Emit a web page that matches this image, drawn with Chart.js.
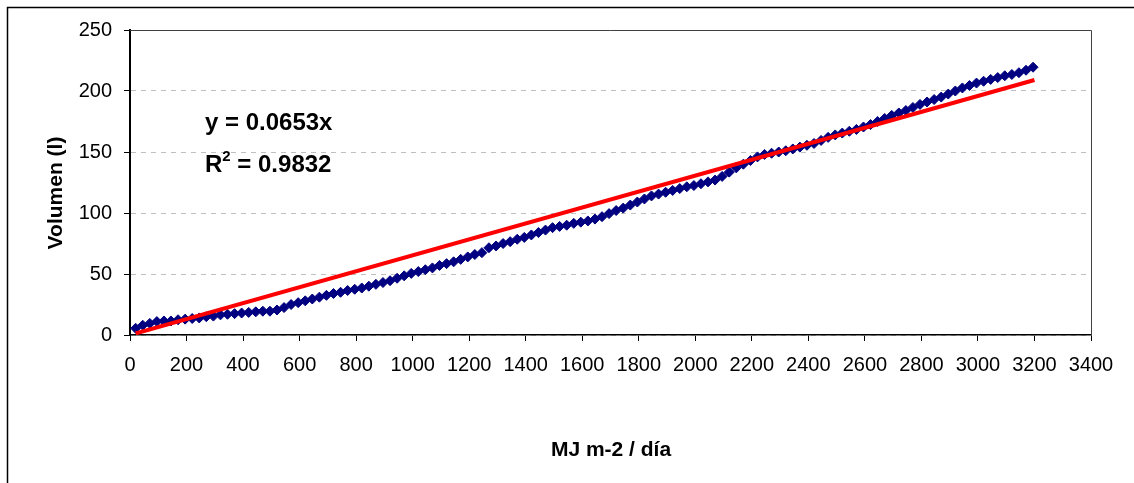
<!DOCTYPE html>
<html>
<head>
<meta charset="utf-8">
<script src="https://cdn.jsdelivr.net/npm/chart.js@4/dist/chart.umd.min.js"></script>
<style>
  html, body { margin: 0; padding: 0; background: #fff; }
  canvas { display: block; }
</style>
</head>
<body>
<canvas id="volChart" width="1134" height="483"></canvas>
<script>
// cumulative radiation (MJ m-2 / dia) and volume (l)
var radiacion = [20,45,70,95,120,145,170,195,220,245,270,295,320,345,370,395,420,445,470,495,
  520,545,570,595,620,645,670,695,720,745,770,795,820,845,870,895,920,945,970,995,
  1020,1045,1070,1095,1120,1145,1170,1195,1220,1245,1270,1295,1320,1345,1370,1395,1420,1445,1470,1495,
  1520,1545,1570,1595,1620,1645,1670,1695,1720,1745,1770,1795,1820,1845,1870,1895,1920,1945,1970,1995,
  2020,2045,2070,2095,2120,2145,2170,2195,2220,2245,2270,2295,2320,2345,2370,2395,2420,2445,2470,2495,
  2520,2545,2570,2595,2620,2645,2670,2695,2720,2745,2770,2795,2820,2845,2870,2895,2920,2945,2970,2995,
  3020,3045,3070,3095,3120,3145,3170,3195];
var volumen = [5.5,8,9.5,11,11.5,11.5,12.5,13,13.5,14,15,15.5,16.5,17,17.5,18,18.5,19,19.5,19.5,
  20.5,22.5,25,26.5,28,29.5,31,32.5,34,35,36.5,37.5,38.5,40,41.5,43,44.5,46.5,48.5,50.5,
  52,53.5,55,57,58.5,60,62,64,66,67.5,71.5,73,75,76.5,78.5,80,82,84,86,88,
  89,90,91.5,92.5,93.5,95,97,99.5,102,104,106.5,109,111.5,114,115.5,117,118.5,120,121.5,122.5,
  124,125.5,127,130,133.5,137,140,143,146,148,149,150,151,152.5,154,155.5,157,159.5,162,164,
  165.5,167,168.5,170.5,172.5,175,177.5,180,182,184,186.5,189,191,193,195,197.5,200,202.5,204.5,206.5,
  208,209.5,211,212.5,213.5,215,217,219.5];

// linear trend through origin (y = 0.0653x), end points
var tendenciaX = [20, 3200];
var tendenciaY = [1.3, 209];

var ticksX = [0,200,400,600,800,1000,1200,1400,1600,1800,2000,2200,2400,2600,2800,3000,3200,3400];
var ticksY = [0,50,100,150,200,250];

var ecuacion = "y = 0.0653x";
var r2Texto = " = 0.9832";
var tituloX = "MJ m-2 / día";
var tituloY = "Volumen (l)";

var puntos = radiacion.map(function (x, i) { return {x: x, y: volumen[i]}; });
var linea = tendenciaX.map(function (x, i) { return {x: x, y: tendenciaY[i]}; });

var FONT = "'Liberation Sans', Arial, sans-serif";

var textos = {
  id: 'textos',
  afterDraw: function (chart) {
    var ctx = chart.ctx, a = chart.chartArea;
    ctx.save();
    // outer frame
    ctx.strokeStyle = '#000';
    ctx.lineWidth = 1.5;
    ctx.strokeRect(7.5, 7.5, 1140, 500);
    // plot area top/right border
    ctx.strokeStyle = '#404040';
    ctx.lineWidth = 1;
    ctx.beginPath();
    ctx.moveTo(a.left, a.top + 0.5);
    ctx.lineTo(a.right + 0.5, a.top + 0.5);
    ctx.lineTo(a.right + 0.5, a.bottom);
    ctx.stroke();

    ctx.fillStyle = '#000';
    ctx.textBaseline = 'alphabetic';
    ctx.textAlign = 'left';
    ctx.font = 'bold 24px ' + FONT;
    ctx.fillText(ecuacion, 205, 130);
    ctx.fillText('R', 205, 172);
    var wR = ctx.measureText('R').width;
    ctx.font = 'bold 15px ' + FONT;
    ctx.fillText('2', 205 + wR, 161);
    var w2 = ctx.measureText('2').width;
    ctx.font = 'bold 24px ' + FONT;
    ctx.fillText(r2Texto, 205 + wR + w2, 172);

    ctx.font = 'bold 21px ' + FONT;
    ctx.textAlign = 'center';
    ctx.fillText(tituloX, 611, 456);

    ctx.translate(62, 193);
    ctx.rotate(-Math.PI / 2);
    ctx.fillText(tituloY, 0, 0);
    ctx.restore();
  }
};

new Chart(document.getElementById('volChart'), {
  type: 'scatter',
  data: {
    datasets: [{
      type: 'line',
      data: linea,
      borderColor: '#ff0000',
      borderWidth: 4,
      pointRadius: 0,
      fill: false,
      order: 0
    }, {
      data: puntos,
      pointStyle: 'rectRot',
      pointRadius: 5,
      backgroundColor: '#000080',
      borderColor: '#000080',
      borderWidth: 1,
      order: 1
    }]
  },
  options: {
    responsive: false,
    devicePixelRatio: 1,
    animation: false,
    layout: { padding: { left: 0, top: 30, right: 43, bottom: 0 } },
    plugins: {
      legend: { display: false },
      tooltip: { enabled: false }
    },
    scales: {
      x: {
        type: 'linear',
        min: 0, max: 3400,
        afterBuildTicks: function (s) { s.ticks = ticksX.map(function (v) { return {value: v}; }); },
        afterFit: function (s) { s.height = 148; },
        grid: { drawOnChartArea: false, drawTicks: true, tickLength: 6, tickColor: '#000', color: '#000' },
        border: { display: true, color: '#000', width: 1.5 },
        ticks: {
          color: '#000', font: { family: FONT, size: 20 }, padding: 12, maxRotation: 0, autoSkip: false,
          callback: function (v) { return String(v); }
        }
      },
      y: {
        type: 'linear',
        min: 0, max: 250,
        afterBuildTicks: function (s) { s.ticks = ticksY.map(function (v) { return {value: v}; }); },
        afterFit: function (s) { s.width = 130; },
        grid: { color: '#c0c0c0', lineWidth: 1, drawTicks: true, tickLength: 6, tickColor: '#000', tickBorderDash: [] },
        border: { display: true, color: '#000', width: 2, dash: [5, 5] },
        ticks: {
          color: '#000', font: { family: FONT, size: 20 }, padding: 12,
          callback: function (v) { return String(v); }
        }
      }
    }
  },
  plugins: [textos]
});
</script>
</body>
</html>
